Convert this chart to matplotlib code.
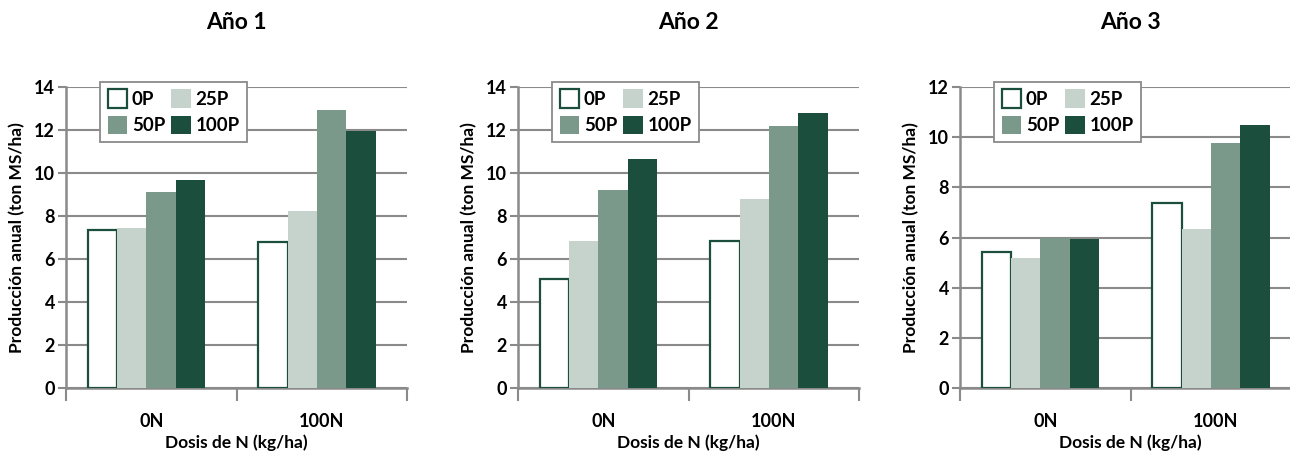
import matplotlib.pyplot as plt
import numpy as np

plt.rcParams['font.family'] = ['Lato', 'DejaVu Sans']
plt.rcParams['font.weight'] = 'bold'
plt.rcParams['axes.titleweight'] = 'bold'
plt.rcParams['axes.labelweight'] = 'bold'

titles = ["Año 1", "Año 2", "Año 3"]
groups = ["0N", "100N"]
series = ["0P", "25P", "50P", "100P"]
# values per panel, one list per series: [0N, 100N]
year1 = {"0P": [7.35, 6.79], "25P": [7.45, 8.25], "50P": [9.13, 12.94], "100P": [9.67, 11.95]}
year2 = {"0P": [5.09, 6.86], "25P": [6.82, 8.79], "50P": [9.23, 12.19], "100P": [10.64, 12.77]}
year3 = {"0P": [5.41, 7.39], "25P": [5.18, 6.33], "50P": [6.0, 9.78], "100P": [5.93, 10.47]}
ymax = [14, 14, 12]

colors = {"0P": "white", "25P": "#c6d3cc", "50P": "#7a998b", "100P": "#1b4e3d"}
edge = "#1b4e3d"
grey = "#8a8a8a"

fig = plt.figure(figsize=(12.9, 4.53), dpi=100)
lefts = [66, 518, 960]
W, H = 1290, 453

for k, (title, data, top) in enumerate(zip(titles, [year1, year2, year3], ymax)):
    ax = fig.add_axes([lefts[k] / W, (H - 388) / H, 341 / W, 301 / H])
    x = np.arange(len(groups))
    bw = 0.172
    bars = {}
    for i, s in enumerate(series):
        bars[s] = ax.bar(x - 0.028 + (i - 1.5) * bw, data[s], width=bw,
                         color=colors[s], edgecolor=edge if s == "0P" else colors[s],
                         linewidth=1.6 if s == "0P" else 0, label=s, zorder=3)
    ax.set_xlim(-0.5, 1.5)
    ax.set_ylim(0, top)
    ax.set_yticks(np.arange(0, top + 1, 2))
    ax.set_xticks(x)
    ax.set_xticklabels(groups, fontsize=13)
    ax.set_xticks([-0.5, 0.5, 1.5], minor=True)
    ax.tick_params(axis='x', which='major', length=0, pad=18)
    ax.tick_params(axis='x', which='minor', length=9, width=1.5, color=grey, direction='out')
    ax.tick_params(axis='y', length=6, width=1.5, color=grey, labelsize=13, pad=2)
    ax.grid(axis='y', color=grey, linewidth=1.5, zorder=0)
    ax.set_axisbelow(True)
    for sp in ['top', 'right']:
        ax.spines[sp].set_visible(False)
    for sp in ['left', 'bottom']:
        ax.spines[sp].set_color(grey)
        ax.spines[sp].set_linewidth(1.8)
    ax.set_xlabel("Dosis de N (kg/ha)", fontsize=12.5, labelpad=3)
    ax.set_ylabel("Producción anual (ton MS/ha)", fontsize=12.5, labelpad=6)
    ax.set_title(title, fontsize=16.5, pad=42)
    order = ["0P", "50P", "25P", "100P"]
    leg = ax.legend([bars[s] for s in order], order, loc='upper left',
                    bbox_to_anchor=(0.1, 1.017), ncol=2,
                    fontsize=13.5, frameon=True, fancybox=False, framealpha=1,
                    edgecolor=grey, handlelength=1.05, handleheight=1.15,
                    handletextpad=0.25, columnspacing=0.3, borderpad=0.4,
                    labelspacing=0.4, borderaxespad=0)
    leg.get_frame().set_linewidth(1.3)
    leg.set_zorder(5)

fig.savefig("out.png", dpi=100)
